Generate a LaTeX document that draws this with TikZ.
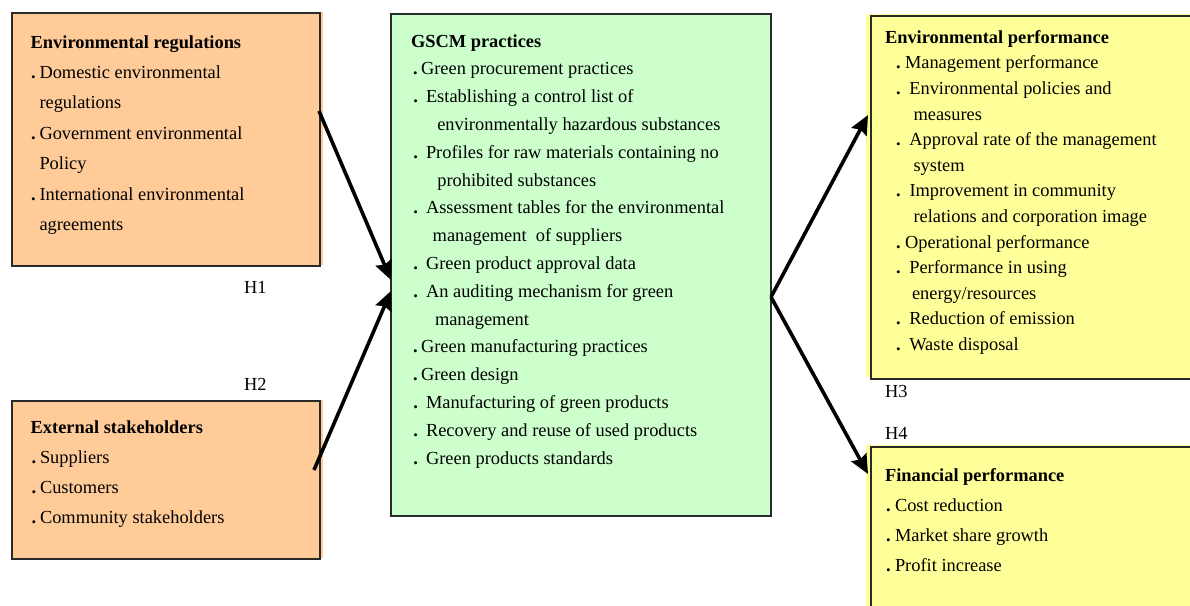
\documentclass[tikz,border=0pt]{standalone}
\usepackage{fontspec}
\setmainfont{Liberation Serif}
\usetikzlibrary{calc,arrows.meta}
\definecolor{ofill}{HTML}{FFCC99}
\definecolor{gfill}{HTML}{CCFFCC}
\definecolor{yfill}{HTML}{FFFF99}
\definecolor{bord}{HTML}{2A2A2A}
\newcommand\bdot[1]{\llap{{\bfseries.}\hspace{#1pt}}}
\tikzset{
  txt/.style={anchor=base west,inner sep=0pt,outer sep=0pt,font=\fontsize{18.4}{22}\selectfont},
  boxbase/.style={rectangle,anchor=north west,inner sep=0pt,outer sep=0pt,draw=bord,line width=1.3pt},
  obox/.style={boxbase,fill=ofill,preaction={fill=ofill,transform canvas={xshift=2.5pt,yshift=1pt}}},
  gbox/.style={boxbase,fill=gfill},
  ybox/.style={boxbase,fill=yfill,preaction={fill=yfill,transform canvas={xshift=-5pt,yshift=2pt}}},
  arr/.style={line width=3.6pt,-{Stealth[length=19pt,width=17pt,inset=2.5pt]}},
}
\begin{document}
\begin{tikzpicture}[x=1pt,y=-1pt]
\useasboundingbox (0,0) rectangle (1190,605);
\fill[white] (0,0) rectangle (1190,605);
% boxes
\node[obox,minimum width=308pt,minimum height=253pt] (envreg) at (12,13) {};
\node[obox,minimum width=308pt,minimum height=158pt] (extst) at (12,401) {};
\node[gbox,minimum width=380pt,minimum height=502pt] (gscm) at (391,14) {};
\node[ybox,minimum width=340pt,minimum height=363pt] (envperf) at (871,16) {};
\node[ybox,minimum width=340pt,minimum height=200pt] (finperf) at (871,447) {};
% texts: environmental regulations
\foreach \x/\t [count=\i from 0] in {
  30.7/{\bfseries Environmental regulations},
  39.5/{\bdot{3.7}Domestic environmental},
  39.5/{regulations},
  39.5/{\bdot{3.7}Government environmental},
  39.5/{Policy},
  39.5/{\bdot{3.7}International environmental},
  39.5/{agreements}}
  \node[txt] (er\i) at (\x,{48+30.4*\i}) {\t};
% external stakeholders
\foreach \x/\t [count=\i from 0] in {
  30.7/{\bfseries External stakeholders},
  40/{\bdot{3.7}Suppliers},
  40/{\bdot{3.7}Customers},
  40/{\bdot{3.7}Community stakeholders}}
  \node[txt] (es\i) at (\x,{433+30*\i}) {\t};
% GSCM practices
\foreach \x/\t [count=\i from 0] in {
  411/{\bfseries GSCM practices},
  421/{\bdot{3.2}Green procurement practices},
  426/{\bdot{8}Establishing a control list of},
  437.3/{environmentally hazardous substances},
  426/{\bdot{8}Profiles for raw materials containing no},
  437.3/{prohibited substances},
  426/{\bdot{8}Assessment tables for the environmental},
  432.7/{management\ \ of suppliers},
  426/{\bdot{8}Green product approval data},
  426/{\bdot{8}An auditing mechanism for green},
  435/{management},
  421/{\bdot{3.2}Green manufacturing practices},
  421/{\bdot{3.2}Green design},
  426/{\bdot{8}Manufacturing of green products},
  426/{\bdot{8}Recovery and reuse of used products},
  426/{\bdot{8}Green products standards}}
  \node[txt] (gp\i) at (\x,{47+27.8*\i}) {\t};
% environmental performance
\foreach \x/\t [count=\i from 0] in {
  885/{\bfseries Environmental performance},
  905/{\bdot{4.2}Management performance},
  909.3/{\bdot{8.5}Environmental policies and},
  913.5/{measures},
  909.3/{\bdot{8.5}Approval rate of the management},
  913.5/{system},
  909.5/{\bdot{8.7}Improvement in community},
  913.5/{relations and corporation image},
  905/{\bdot{4.2}Operational performance},
  909.3/{\bdot{8.5}Performance in using},
  912/{energy/resources},
  909.3/{\bdot{8.5}Reduction of emission},
  909.3/{\bdot{8.5}Waste disposal}}
  \node[txt] (ep\i) at (\x,{43.3+25.6*\i}) {\t};
% financial performance
\foreach \x/\t [count=\i from 0] in {
  885/{\bfseries Financial performance},
  895/{\bdot{4.2}Cost reduction},
  895/{\bdot{4.2}Market share growth},
  895/{\bdot{4.2}Profit increase}}
  \node[txt] (fp\i) at (\x,{481+30*\i}) {\t};
% hypothesis labels
\node[txt] (h1) at (244,293) {H1};
\node[txt] (h2) at (244,390) {H2};
\node[txt] (h3) at (885,397) {H3};
\node[txt] (h4) at (885,439) {H4};
% connector end points
\coordinate (s1) at ($(envreg.north east)+(-1,98)$);
\coordinate (s2) at ($(extst.north east)+(-6,69)$);
\coordinate (t1) at ($(gscm.west)+(0,15)$);
\coordinate (t2) at ($(gscm.west)+(0,26)$);
\coordinate (s3) at ($(gscm.east)+(0,32)$);
\coordinate (t3) at ($(envperf.north west)+(-3,99)$);
\coordinate (t4) at ($(finperf.north west)+(-3,27)$);
\draw[arr] (s1) -- (t1);
\draw[arr] (s2) -- (t2);
\draw[arr] (s3) -- (t3);
\draw[arr] (s3) -- (t4);
\end{tikzpicture}
\end{document}
